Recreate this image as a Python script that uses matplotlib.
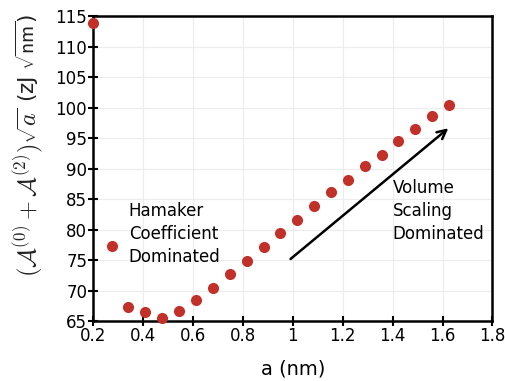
import matplotlib
matplotlib.use('Agg')
import matplotlib.pyplot as plt

# 데이터
a_nm = [0.200, 0.274, 0.340, 0.408, 0.477, 0.543, 0.612, 0.680, 0.748, 0.816, 0.883,
        0.950, 1.018, 1.086, 1.154, 1.221, 1.288, 1.356, 1.422, 1.491, 1.559, 1.626]
energy = [113.8, 77.3, 67.4, 66.5, 65.6, 66.7, 68.5, 70.5, 72.7, 74.8, 77.1,
          79.4, 81.6, 83.8, 86.1, 88.1, 90.4, 92.3, 94.5, 96.5, 98.6, 100.4]

x_ticks = [0.2, 0.4, 0.6, 0.8, 1.0, 1.2, 1.4, 1.6, 1.8]
x_tick_labels = ['0.2', '0.4', '0.6', '0.8', '1', '1.2', '1.4', '1.6', '1.8']
y_ticks = [65, 70, 75, 80, 85, 90, 95, 100, 105, 110, 115]

plt.rcParams['font.family'] = ['DejaVu Sans']
plt.rcParams['mathtext.fontset'] = 'cm'

fig = plt.figure(figsize=(5.05, 3.81), dpi=100)
ax = fig.add_axes([0.185, 0.157, 0.79, 0.801])

ax.plot(a_nm, energy, 'o', color='#c1312a', markersize=8, markeredgewidth=0, clip_on=False, zorder=3)

ax.set_xlim(0.2, 1.8)
ax.set_ylim(65, 115)
ax.set_xticks(x_ticks)
ax.set_xticklabels(x_tick_labels)
ax.set_yticks(y_ticks)
ax.grid(True, color='#ececec', linewidth=0.8)
ax.set_axisbelow(True)
for s in ax.spines.values():
    s.set_linewidth(1.8)
ax.tick_params(direction='inout', length=7, width=1.5, labelsize=12, pad=1, colors='black')

ax.set_xlabel('a (nm)', fontsize=14, labelpad=10)

# y축 라벨: 수식 부분이 조금 더 크게 보여서 둘로 나눔
fig.text(0.055, 0.496, r'$(\mathcal{A}^{(0)}+\mathcal{A}^{(2)})\sqrt{a}$', fontsize=17.5,
         rotation=90, ha='center', va='center', color='#222222')
fig.text(0.055, 0.849, r'(zJ $\sqrt{\mathsf{nm}}$)', fontsize=15.5,
         rotation=90, ha='center', va='center', color='#222222')

# 주석
ax.text(0.342, 79.3, 'Hamaker\nCoefficient\nDominated', fontsize=12, va='center',
        ha='left', linespacing=1.35)
ax.text(1.40, 83.1, 'Volume\nScaling\nDominated', fontsize=12, va='center',
        ha='left', linespacing=1.35, clip_on=False)
ax.annotate('', xy=(1.632, 96.9), xytext=(0.982, 74.9),
            arrowprops=dict(arrowstyle='->', color='black', lw=1.8, mutation_scale=16))

fig.savefig('out.png', dpi=100)
